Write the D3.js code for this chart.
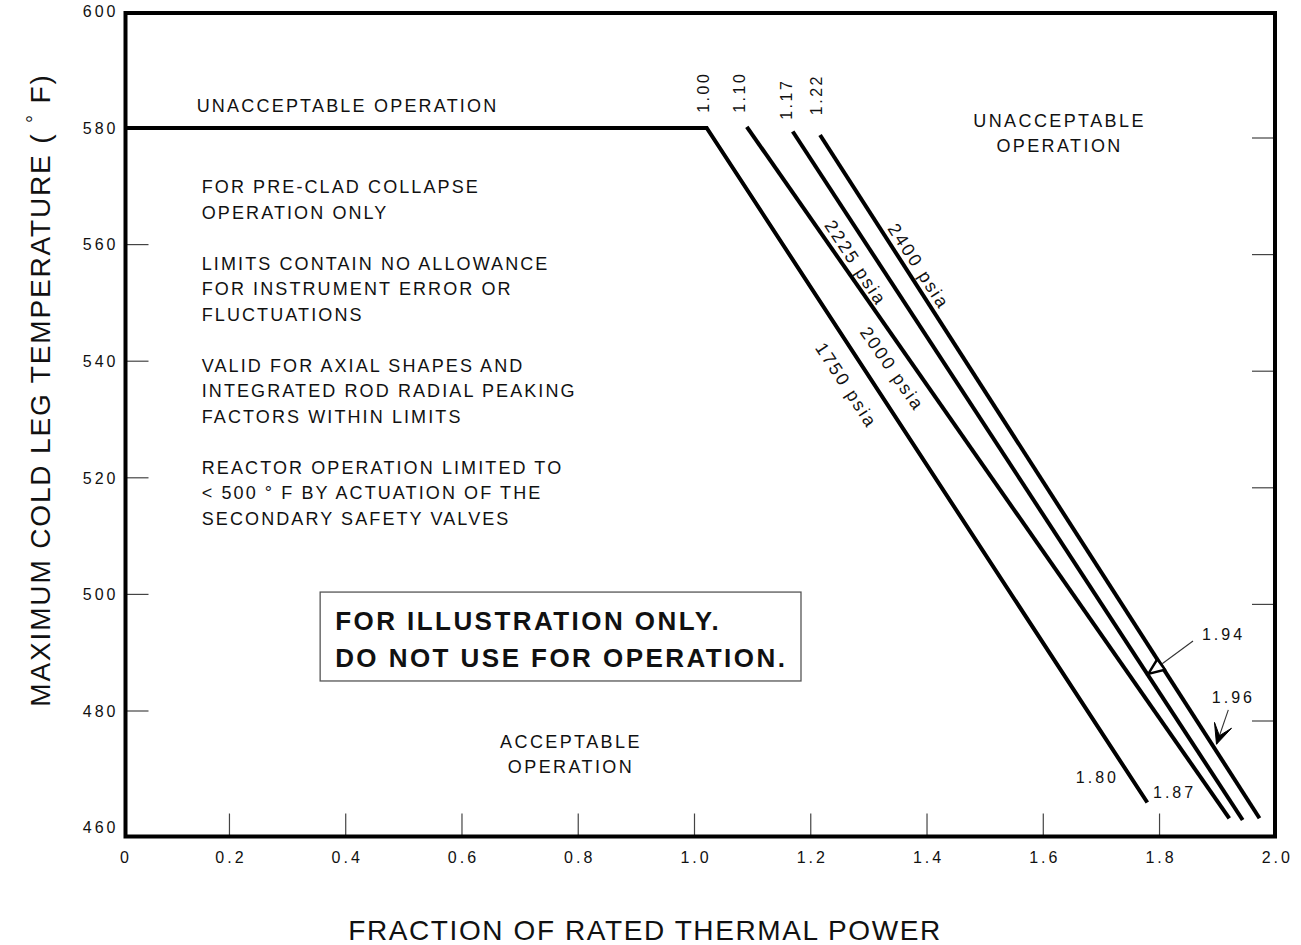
<!DOCTYPE html>
<html><head><meta charset="utf-8">
<script src="https://cdn.jsdelivr.net/npm/d3@7"></script>
<style>
body{margin:0;background:#fff}
svg{display:block;background:#fff}
text{font-family:"Liberation Sans",Arial,Helvetica,sans-serif;fill:#111}
</style>
</head><body>
<svg id="c" width="1301" height="945"></svg>
<script>
// ---------- data ----------
const xTickValues = [0, 0.2, 0.4, 0.6, 0.8, 1.0, 1.2, 1.4, 1.6, 1.8, 2.0];
const xTickLabels = ["0", "0.2", "0.4", "0.6", "0.8", "1.0", "1.2", "1.4", "1.6", "1.8", "2.0"];
const yTickValues = [460, 480, 500, 520, 540, 560, 580, 600];
const yTickLabels = ["460", "480", "500", "520", "540", "560", "580", "600"];

const pressureLabels = ["1750 psia", "2000 psia", "2225 psia", "2400 psia"];
const startLabels = ["1.00", "1.10", "1.17", "1.22"];
const endLabels = ["1.80", "1.87", "1.94", "1.96"];

// limit curves: [fraction of rated thermal power, max cold leg temperature]
const curve1750 = [[0, 580], [1.021, 580], [1.779, 464.3]];
const curve2000 = [[1.090, 580.2], [1.920, 461.6]];
const curve2225 = [[1.169, 579.4], [1.943, 461.3]];
const curve2400 = [[1.216, 578.8], [1.972, 461.6]];

// annotation anchors (data coordinates)
const startLabelPos = [[1.0145, 582.6], [1.0765, 582.6], [1.158, 581.4], [1.2102, 582.2]];
const endLabelPos = [[1.656, 467.65], [1.7888, 465.1], [1.873, 492.2], [1.890, 481.4]];
const pressureLabelPos = [[1.2618, 535.9], [1.3406, 538.7], [1.2778, 556.9], [1.3862, 556.3]];
const arrow194 = [[1.8576, 492.0], [1.7806, 486.35]];
const arrow196 = [[1.9183, 480.2], [1.898, 474.3]];

const regionTopLeft = {pos: [0.1436, 582.8], lines: ["UNACCEPTABLE OPERATION"]};
const regionTopRight = {pos: [1.628, 580.2], lines: ["UNACCEPTABLE", "OPERATION"]};
const regionBottom = {pos: [0.7875, 473.65], lines: ["ACCEPTABLE", "OPERATION"]};
const notesPos = [0.1523, 568.8];
const notesLines = [
  "FOR PRE-CLAD COLLAPSE", "OPERATION ONLY", "",
  "LIMITS CONTAIN NO ALLOWANCE", "FOR INSTRUMENT ERROR OR", "FLUCTUATIONS", "",
  "VALID FOR AXIAL SHAPES AND", "INTEGRATED ROD RADIAL PEAKING", "FACTORS WITHIN LIMITS", "",
  "REACTOR OPERATION LIMITED TO", "< 500 ° F BY ACTUATION OF THE", "SECONDARY SAFETY VALVES"
];
const warningBox = [[0.356, 500.4], [1.1832, 485.15]];
const warningLines = ["FOR ILLUSTRATION ONLY.", "DO NOT USE FOR OPERATION."];

const xTitle = "FRACTION OF RATED THERMAL POWER";
const yTitleParts = ["MAXIMUM COLD LEG TEMPERATURE ( ", "°", " F)"];

// ---------- layout ----------
const svg = d3.select("#c");
const x = d3.scaleLinear().domain([0, 2]).range([113.2, 1275.8]);
const y = d3.scaleLinear().domain([460, 600]).range([827.6, 11.4]);
const yRight = d3.scaleLinear().domain([460, 600]).range([837.6, 21.4]);
const frame = {left: 125.5, right: 1275, top: 13, bottom: 836.5};
const tickLen = 23;

svg.append("defs").append("clipPath").attr("id", "plotclip")
  .append("rect").attr("x", frame.left).attr("y", frame.top)
  .attr("width", frame.right - frame.left).attr("height", frame.bottom - frame.top);

// ticks
const tickG = svg.append("g").attr("stroke", "#444").attr("stroke-width", 1.2);
tickG.selectAll("line.xt").data(xTickValues.filter(v => v > 0 && v < 2)).join("line")
  .attr("x1", d => x(d)).attr("x2", d => x(d))
  .attr("y1", frame.bottom).attr("y2", frame.bottom - tickLen);
tickG.selectAll("line.yl").data(yTickValues.filter(v => v > 460 && v < 580)).join("line")
  .attr("x1", frame.left).attr("x2", frame.left + tickLen)
  .attr("y1", d => y(d)).attr("y2", d => y(d));
tickG.selectAll("line.yr").data(yTickValues.filter(v => v > 460 && v < 600)).join("line")
  .attr("x1", frame.right).attr("x2", frame.right - tickLen)
  .attr("y1", d => yRight(d)).attr("y2", d => yRight(d));

// tick labels
svg.append("g").selectAll("text").data(xTickValues).join("text")
  .attr("x", d => Math.max(x(d), frame.left - 1) + 1.5)
  .attr("y", frame.bottom + 26.5)
  .attr("text-anchor", "middle").attr("font-size", 16).attr("letter-spacing", 3)
  .text((d, i) => xTickLabels[i]);
svg.append("g").selectAll("text").data(yTickValues).join("text")
  .attr("x", frame.left - 7).attr("y", d => y(d))
  .attr("dy", "0.36em")
  .attr("text-anchor", "end").attr("font-size", 16).attr("letter-spacing", 3)
  .text((d, i) => yTickLabels[i]);

// curves
const line = d3.line().x(d => x(d[0])).y(d => y(d[1]));
const curves = [curve1750, curve2000, curve2225, curve2400];
svg.append("g").attr("clip-path", "url(#plotclip)")
  .selectAll("path").data(curves).join("path")
  .attr("d", line).attr("fill", "none").attr("stroke", "#000")
  .attr("stroke-width", 4).attr("stroke-linejoin", "miter");

// frame
svg.append("rect").attr("x", frame.left).attr("y", frame.top)
  .attr("width", frame.right - frame.left).attr("height", frame.bottom - frame.top)
  .attr("fill", "none").attr("stroke", "#000").attr("stroke-width", 4);

// start labels (rotated)
svg.append("g").selectAll("text").data(startLabelPos).join("text")
  .attr("transform", d => `translate(${x(d[0])},${y(d[1])}) rotate(-90)`)
  .attr("dy", "0.36em").attr("font-size", 16).attr("letter-spacing", 2.5)
  .text((d, i) => startLabels[i]);

// end labels
svg.append("g").selectAll("text").data(endLabelPos).join("text")
  .attr("x", d => x(d[0])).attr("y", d => y(d[1]))
  .attr("font-size", 16).attr("letter-spacing", 3)
  .text((d, i) => endLabels[i]);

// pressure labels along curves
svg.append("g").selectAll("text").data(pressureLabelPos).join("text")
  .attr("transform", (d, i) => {
    const c = curves[i];
    const a = c[c.length - 2], b = c[c.length - 1];
    const ang = Math.atan2(y(b[1]) - y(a[1]), x(b[0]) - x(a[0])) * 180 / Math.PI;
    return `translate(${x(d[0])},${y(d[1])}) rotate(${ang})`;
  })
  .attr("text-anchor", "middle").attr("dy", "0.36em")
  .attr("font-size", 18).attr("letter-spacing", 2.2)
  .text((d, i) => pressureLabels[i]);

// arrows
function arrowLine(pts) {
  svg.append("line")
    .attr("x1", x(pts[0][0])).attr("y1", y(pts[0][1]))
    .attr("x2", x(pts[1][0])).attr("y2", y(pts[1][1]))
    .attr("stroke", "#333").attr("stroke-width", 1.1);
}
function headPoints(pts, len, half, notch) {
  const sx = x(pts[0][0]), sy = y(pts[0][1]), tx = x(pts[1][0]), ty = y(pts[1][1]);
  const L = Math.hypot(tx - sx, ty - sy), ux = (tx - sx) / L, uy = (ty - sy) / L;
  const bx = tx - ux * len, by = ty - uy * len;
  const p = [[tx, ty], [bx - uy * half, by + ux * half]];
  if (notch) p.push([tx - ux * (len - notch), ty - uy * (len - notch)]);
  p.push([bx + uy * half, by - ux * half]);
  return p;
}
arrowLine(arrow194);
svg.append("polygon").attr("points", headPoints(arrow194, 16, 6.5, 0).join(" "))
  .attr("fill", "#fff").attr("stroke", "#000").attr("stroke-width", 2.4).attr("stroke-linejoin", "miter");
arrowLine(arrow196);
svg.append("polygon").attr("points", headPoints(arrow196, 20, 9, 11).join(" "))
  .attr("fill", "#000").attr("stroke", "#000").attr("stroke-width", 1);

// region texts
function block(obj, anchor, fs, ls, lh) {
  const t = svg.append("text").attr("text-anchor", anchor)
    .attr("font-size", fs).attr("letter-spacing", ls);
  obj.lines.forEach((s, i) => {
    if (!s) return;
    t.append("tspan").attr("x", x(obj.pos[0])).attr("y", y(obj.pos[1]) + i * lh).text(s);
  });
}
block(regionTopLeft, "start", 18, 2.2, 25);
block(regionTopRight, "middle", 18, 2.4, 25);
block(regionBottom, "middle", 18, 2.4, 25);
block({pos: notesPos, lines: notesLines}, "start", 18, 2.1, 25.5);

// warning box
const bx0 = x(warningBox[0][0]), by0 = y(warningBox[0][1]);
const bx1 = x(warningBox[1][0]), by1 = y(warningBox[1][1]);
svg.append("rect").attr("x", bx0).attr("y", by0).attr("width", bx1 - bx0).attr("height", by1 - by0)
  .attr("fill", "#fff").attr("stroke", "#555").attr("stroke-width", 1.3);
const wt = svg.append("text").attr("font-size", 26).attr("font-weight", "bold").attr("letter-spacing", 2.45);
warningLines.forEach((s, i) => {
  wt.append("tspan").attr("x", bx0 + 15).attr("y", by0 + 38 + i * 37).text(s);
});

// axis titles
svg.append("text").attr("x", 645).attr("y", 940).attr("text-anchor", "middle")
  .attr("font-size", 28).attr("letter-spacing", 1.6).text(xTitle);
const yt = svg.append("text").attr("transform", "translate(50,390) rotate(-90)")
  .attr("text-anchor", "middle").attr("font-size", 28).attr("letter-spacing", 1.85);
yt.append("tspan").text(yTitleParts[0]);
yt.append("tspan").attr("font-size", 20).attr("dy", -9).text(yTitleParts[1]);
yt.append("tspan").attr("dy", 9).text(yTitleParts[2]);
</script>
</body></html>
